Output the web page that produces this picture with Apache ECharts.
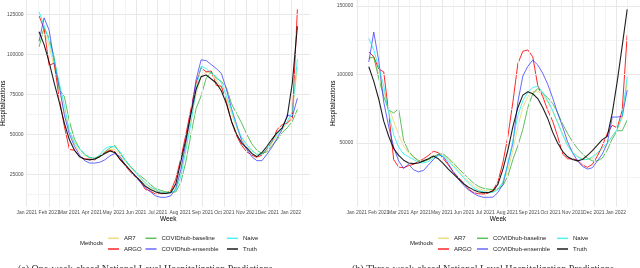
<!DOCTYPE html>
<html><head><meta charset="utf-8">
<script src="https://cdn.jsdelivr.net/npm/echarts@6/dist/echarts.min.js"></script>
<style>html,body{margin:0;padding:0;background:#fff}#c{width:640px;height:268px}</style>
</head><body><div id="c"></div>
<script>
// ---------- data ----------
const methods = ['AR7','ARGO','COVIDhub-baseline','COVIDhub-ensemble','Naive','Truth'];
const leftStart = '2021-01-18', leftCount = 52;
const rightStart = '2021-01-18', rightCount = 53;
const monthBreaks = ['2021-01-01','2021-02-01','2021-03-01','2021-04-01','2021-05-01','2021-06-01','2021-07-01','2021-08-01','2021-09-01','2021-10-01','2021-11-01','2021-12-01','2022-01-01'];
const leftYTicks = [25000,50000,75000,100000,125000];
const leftYMinor = [12500,37500,62500,87500,112500];
const rightYTicks = [50000,100000,150000];
const rightYMinor = [25000,75000,125000];

const leftAR7 = [112000,115000,105000,92000,78000,64000,52000,44000,39000,36500,35500,35000,36500,38500,40500,40500,37000,33000,29500,26000,22500,19000,16500,15000,14000,13500,13800,17000,27000,42000,59000,75000,86000,89000,88000,84000,79000,72000,63000,54000,47000,42500,39500,37500,37500,40000,44500,49000,53000,57000,62000,92000];
const leftARGO = [124000,116000,93000,94500,72000,55000,40500,40000,36000,34500,34500,34000,36500,38500,40000,39000,34000,30500,26500,23500,20500,15500,14500,12500,12800,13000,14500,22000,35000,50000,66000,82000,91500,89000,89500,80500,80000,70000,58000,49000,43000,39000,37000,35500,37000,41000,45500,53000,56000,57000,60000,128000];
const leftBaseline = [104500,116500,110000,98000,78000,73500,58000,47000,41000,37500,35500,35000,36000,39000,41500,43000,38000,34000,30000,27000,24000,21500,18500,16000,15000,14000,13800,14000,20000,33000,50000,66000,74000,85000,89000,85000,83000,79000,69000,63000,57000,50000,44000,40000,38000,39000,43000,46500,51000,54000,58000,65500];
const leftEnsemble = [108000,122700,115000,95000,80000,62000,50000,42500,37000,33500,32000,32000,32500,34000,36500,38000,36000,31000,27500,24000,20000,16500,14000,11500,10600,10600,11500,16000,28000,45000,63000,84000,96500,96000,93500,91000,88000,78000,66000,56000,46000,40500,36000,33500,33500,37500,42000,47500,53000,62000,61000,72500];
const leftNaive = [126500,118000,108000,96000,82000,68000,52000,45000,41000,37500,35500,35000,37000,41000,42500,42000,39000,34000,30000,26500,23000,19500,17000,15500,14000,13500,13500,15000,24000,40000,57000,78000,92500,91000,88000,86000,82000,74000,65000,55000,48000,43500,40000,37500,37500,41000,45500,50000,54000,58000,64000,97000];
const leftTruth = [114000,106000,95000,82000,70000,57000,46500,40000,36000,34500,34000,34500,36000,38000,39500,38500,34500,31000,27500,24000,21000,17500,15500,14000,13200,13000,13500,19000,33000,47000,63000,78000,86000,87000,84500,82000,77000,69000,58000,50000,44500,41500,38000,36000,38500,42500,47000,51000,54000,61000,82000,117500];

const rightAR7 = [113000,112000,100000,88000,76000,66000,56000,48000,43000,39500,37500,37000,38000,40000,41500,41000,38000,34000,30000,26000,22500,19000,17000,15500,15000,15000,16500,21000,30000,45000,62000,76000,84000,87500,88000,85000,80000,73000,65000,57000,49000,44000,40500,38500,38000,39000,42000,46000,50000,55000,60000,68000,95000];
const rightARGO = [116600,113000,104000,102000,72000,38000,32500,32000,33500,34500,36500,38500,41000,44000,43000,38500,34000,29000,25000,21000,16500,14000,13000,12800,13500,15500,22000,36000,55000,80000,108000,117000,118000,113000,92000,84000,74000,66000,55000,42000,38500,38500,37500,34000,32300,34500,40500,48000,57000,63000,61000,74000,128800];
const rightBaseline = [111800,113000,97000,84000,74000,72000,75000,52000,44000,40000,37000,36500,38000,40000,42000,42000,39000,35500,31500,28000,24500,21000,18500,17000,16400,16000,16500,19000,26000,38000,48000,60000,76000,86000,89900,86500,83000,79000,72000,64000,57000,51000,46000,42000,39000,37000,37000,39000,45000,53000,59000,59000,66800];
const rightEnsemble = [109300,131000,110000,80000,62000,47000,37000,31500,34500,30500,29000,30000,34000,38000,41500,40000,35000,29000,24000,19500,16000,13500,11500,10400,10400,10500,14000,20000,35000,50000,80000,99000,106000,110600,107000,101000,93000,83000,72000,62000,51000,43000,37000,33000,31000,32000,37000,42000,50000,69000,69000,69500,88700];
const rightNaive = [126400,118000,105000,92000,72000,56000,47000,42000,40000,38000,36000,35500,36500,39000,41000,40500,37000,33000,29000,25000,21000,17500,15500,14500,14000,14000,16000,22000,35000,52000,70000,81000,87000,90500,91600,87000,81000,74000,65000,56000,48000,43000,40000,38000,38000,40000,43000,46500,50000,55000,60000,70000,98400];
const rightTruth = [105700,95000,82000,66000,55000,46000,41000,37500,35500,35000,35500,37000,38500,40500,38500,35000,31000,27500,24000,20500,18000,16000,14500,13800,13800,15000,20000,31000,45000,62000,76000,85000,87500,86000,82500,76000,68000,58000,50000,44000,40000,38000,37000,38000,41000,44500,48500,52500,55000,72000,95000,121000,147600];

const captionLeft = '(a) One-week-ahead National Level Hospitalization Predictions';
const captionRight = '(b) Three-week-ahead National Level Hospitalization Predictions';

// ---------- styling ----------
const colorOf = {
  'AR7': 'rgba(236,214,110,0.85)',
  'ARGO': 'rgba(255,0,0,0.85)',
  'COVIDhub-baseline': 'rgba(40,170,40,0.75)',
  'COVIDhub-ensemble': 'rgba(40,40,255,0.7)',
  'Naive': 'rgba(0,240,240,0.7)',
  'Truth': 'rgba(0,0,0,0.88)'
};
const FONT = 'Liberation Sans';
const DAY = 86400000;
const ts = s => Date.parse(s + 'T00:00:00Z');
const weekly = (start, n) => { const t0 = ts(start); const a = []; for (let i = 0; i < n; i++) a.push(t0 + i * 7 * DAY); return a; };
const monthNames = ['Jan','Feb','Mar','Apr','May','Jun','Jul','Aug','Sep','Oct','Nov','Dec'];
const monthTs = monthBreaks.map(ts);

function extent(arrs) {
  let lo = Infinity, hi = -Infinity;
  arrs.forEach(a => a.forEach(v => { if (v < lo) lo = v; if (v > hi) hi = v; }));
  const r = hi - lo; return [lo - 0.05 * r, hi + 0.05 * r];
}

const panels = [
  { dates: weekly(leftStart, leftCount), series: [leftAR7, leftARGO, leftBaseline, leftEnsemble, leftNaive, leftTruth], yt: leftYTicks, ym: leftYMinor, left: 26.1 },
  { dates: weekly(rightStart, rightCount), series: [rightAR7, rightARGO, rightBaseline, rightEnsemble, rightNaive, rightTruth], yt: rightYTicks, ym: rightYMinor, left: 355.9 }
];

const grids = [], xAxes = [], yAxes = [], series = [];
panels.forEach((p, i) => {
  const d = p.dates; const span = d[d.length - 1] - d[0];
  const xmin = d[0] - 0.05 * span, xmax = d[d.length - 1] + 0.05 * span;
  const [ymin, ymax] = extent(p.series);
  grids.push({ left: p.left, top: 0, width: 284.2, height: 206.7, containLabel: false, outerBoundsMode: 'none' });
  xAxes.push({
    type: 'value', gridIndex: i, min: xmin, max: xmax,
    axisLine: { show: false }, axisTick: { show: false }, splitLine: { show: false },
    axisLabel: { customValues: monthTs, margin: 3.5, fontSize: 5, fontFamily: FONT, color: '#4d4d4d',
      formatter: v => { const dt = new Date(v); return monthNames[dt.getUTCMonth()] + ' ' + dt.getUTCFullYear(); } },
    name: 'Week', nameLocation: 'middle', nameGap: 9, nameMoveOverlap: false,
    nameTextStyle: { fontSize: 6.5, fontFamily: FONT, color: '#000' }
  });
  yAxes.push({
    type: 'value', gridIndex: i, min: ymin, max: ymax,
    axisLine: { show: false }, axisTick: { show: false }, splitLine: { show: false },
    axisLabel: { customValues: p.yt, margin: 2.5, fontSize: 5, fontFamily: FONT, color: '#4d4d4d', formatter: v => String(v) },
    name: 'Hospitalizations', nameLocation: 'middle', nameRotate: 90, nameGap: 19, nameMoveOverlap: false,
    nameTextStyle: { fontSize: 6.5, fontFamily: FONT, color: '#000' }
  });
  // gridlines
  const minorX = [];
  const ext = monthTs.concat([ts('2022-02-01')]);
  for (let k = 0; k < ext.length - 1; k++) minorX.push((ext[k] + ext[k + 1]) / 2);
  const gl = [];
  p.ym.forEach(v => { if (v > ymin && v < ymax) gl.push({ yAxis: v, lineStyle: { color: '#f1f1f1', width: 0.8 } }); });
  p.yt.forEach(v => { if (v > ymin && v < ymax) gl.push({ yAxis: v, lineStyle: { color: '#e8e8e8', width: 1 } }); });
  minorX.forEach(v => { if (v > xmin && v < xmax) gl.push({ xAxis: v, lineStyle: { color: '#f1f1f1', width: 0.8 } }); });
  monthTs.forEach(v => { if (v >= xmin && v < xmax) gl.push({ xAxis: v, lineStyle: { color: '#e8e8e8', width: 1 } }); });
  series.push({
    type: 'line', xAxisIndex: i, yAxisIndex: i, data: [], silent: true, z: 1,
    markLine: { silent: true, symbol: ['none', 'none'], label: { show: false }, animation: false,
      lineStyle: { type: 'solid' }, emphasis: { disabled: true }, data: gl }
  });
  methods.forEach((m, j) => {
    series.push({
      type: 'line', name: m, xAxisIndex: i, yAxisIndex: i, z: 2 + j,
      data: p.series[j].map((v, k) => [d[k], v]),
      showSymbol: false, symbol: 'none', silent: true, color: colorOf[m],
      lineStyle: { width: m === 'Truth' ? 1.1 : 1, color: colorOf[m] },
      emphasis: { disabled: true }
    });
  });
});

function legendCol(left, names) {
  return { left: left, top: 235.3, orient: 'vertical', padding: 0, itemGap: 4.7,
    itemWidth: 11, itemHeight: 1.5, icon: 'rect', selectedMode: false, data: names,
    textStyle: { fontSize: 6, lineHeight: 6, fontFamily: FONT, color: '#1a1a1a' } };
}
const legends = [
  legendCol(108, ['AR7', 'ARGO']), legendCol(145.5, ['COVIDhub-baseline', 'COVIDhub-ensemble']), legendCol(227, ['Naive', 'Truth']),
  legendCol(438, ['AR7', 'ARGO']), legendCol(477, ['COVIDhub-baseline', 'COVIDhub-ensemble']), legendCol(557, ['Naive', 'Truth'])
];

const chart = echarts.init(document.getElementById('c'), null, { renderer: 'canvas' });
chart.setOption({
  animation: false,
  backgroundColor: '#fff',
  grid: grids, xAxis: xAxes, yAxis: yAxes, series: series, legend: legends,
  graphic: [
    { type: 'text', style: { x: 80, y: 243, text: 'Methods', fontSize: 6, fontFamily: FONT, fill: '#1a1a1a', verticalAlign: 'middle' } },
    { type: 'text', style: { x: 410, y: 243, text: 'Methods', fontSize: 6, fontFamily: FONT, fill: '#1a1a1a', verticalAlign: 'middle' } },
    { type: 'text', style: { x: 18, y: 264.5, text: captionLeft, fontSize: 10, fontFamily: 'Liberation Serif', fill: '#333', verticalAlign: 'top' } },
    { type: 'text', style: { x: 352, y: 264.5, text: captionRight, fontSize: 10, fontFamily: 'Liberation Serif', fill: '#333', verticalAlign: 'top' } }
  ]
});
</script></body></html>
